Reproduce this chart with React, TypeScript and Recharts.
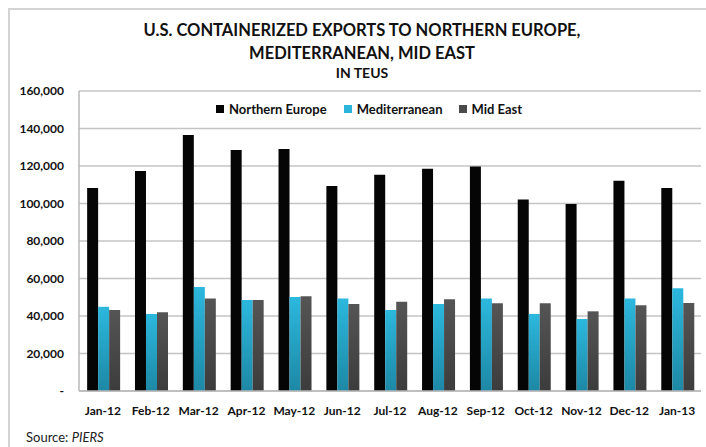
import { BarChart, Bar, XAxis, YAxis, CartesianGrid, Legend } from 'recharts';

const months = ['Jan-12', 'Feb-12', 'Mar-12', 'Apr-12', 'May-12', 'Jun-12', 'Jul-12', 'Aug-12', 'Sep-12', 'Oct-12', 'Nov-12', 'Dec-12', 'Jan-13'];
const northernEurope = [108300, 117300, 136600, 128600, 129100, 109300, 115300, 118600, 119700, 102200, 99800, 112200, 108300];
const mediterranean = [44900, 41100, 55500, 48500, 50100, 49300, 43200, 46400, 49400, 41100, 38400, 49300, 54800];
const midEast = [43200, 42000, 49300, 48500, 50500, 46400, 47600, 48900, 46800, 46800, 42500, 45700, 46900];
const yTicks = [0, 20000, 40000, 60000, 80000, 100000, 120000, 140000, 160000];

const data = months.map((month, i) => ({
  month,
  ne: northernEurope[i],
  med: mediterranean[i],
  me: midEast[i],
}));

const FONT = 'Lato, "Open Sans", sans-serif';

const formatTick = (v: number) => (v === 0 ? '-' : v.toLocaleString('en-US'));

const legendItems = [
  { label: 'Northern Europe', color: '#050505', gap: 0 },
  { label: 'Mediterranean', color: '#2bb5da', gap: 17 },
  { label: 'Mid East', color: '#4a4a4a', gap: 16 },
];

function ChartLegend() {
  return (
    <div style={{ display: 'flex', alignItems: 'center', paddingLeft: 216, fontFamily: FONT, fontWeight: 700, fontSize: 13, color: '#111' }}>
      {legendItems.map((it) => (
        <div key={it.label} style={{ display: 'flex', alignItems: 'center', marginLeft: it.gap }}>
          <span style={{ width: 8, height: 8, background: it.color, display: 'inline-block', marginRight: 5 }} />
          <span>{it.label}</span>
        </div>
      ))}
    </div>
  );
}

export default function App() {
  return (
    <div style={{ position: 'absolute', left: 0, top: 0, width: 706, height: 447, background: '#fff', overflow: 'hidden' }}>
      <div style={{ position: 'absolute', left: 8, top: 8, width: 720, height: 460, borderLeft: '2px solid #d4d4d4', borderTop: '2px solid #d4d4d4' }} />
      <div style={{ position: 'absolute', left: 0, top: 19, width: 724, textAlign: 'center', fontFamily: FONT, fontWeight: 700, color: '#111' }}>
        <div style={{ fontSize: 16.5, lineHeight: '23px' }}>U.S. CONTAINERIZED EXPORTS TO NORTHERN EUROPE,</div>
        <div style={{ fontSize: 16.5, lineHeight: '23px' }}>MEDITERRANEAN, MID EAST</div>
        <div style={{ fontSize: 14, lineHeight: '16px' }}>IN TEUS</div>
      </div>
      <div style={{ position: 'absolute', left: 0, top: 0 }}>
        <BarChart
          width={706}
          height={447}
          data={data}
          margin={{ top: 91, right: 5, left: 9, bottom: 26 }}
          barCategoryGap="17%"
          barGap={0}
        >
          <defs>
            <linearGradient id="medGrad" x1="0" y1="0" x2="0" y2="1">
              <stop offset="0%" stopColor="#2cb8de" />
              <stop offset="100%" stopColor="#1d88a5" />
            </linearGradient>
            <linearGradient id="meGrad" x1="0" y1="0" x2="0" y2="1">
              <stop offset="0%" stopColor="#555555" />
              <stop offset="100%" stopColor="#3c3c3c" />
            </linearGradient>
          </defs>
          <CartesianGrid vertical={false} stroke="#c4c4c4" strokeWidth={1.5} />
          <XAxis
            dataKey="month"
            height={30}
            tickLine={false}
            tickSize={6}
            tickMargin={9}
            axisLine={{ stroke: '#b8b8b8', strokeWidth: 1.5 }}
            tick={{ fontFamily: FONT, fontWeight: 700, fontSize: 12, fill: '#111' }}
            interval={0}
          />
          <YAxis
            width={70}
            domain={[0, 160000]}
            ticks={yTicks}
            tickFormatter={formatTick}
            tickLine={false}
            tickSize={6}
            tickMargin={9}
            axisLine={{ stroke: '#b8b8b8', strokeWidth: 1.5 }}
            tick={{ fontFamily: FONT, fontWeight: 700, fontSize: 12, fill: '#111' }}
          />
          <Legend verticalAlign="middle" align="center" wrapperStyle={{ top: 101, left: 0, width: 706 }} content={() => <ChartLegend />} />
          <Bar dataKey="ne" name="Northern Europe" fill="#050505" isAnimationActive={false} />
          <Bar dataKey="med" name="Mediterranean" fill="url(#medGrad)" isAnimationActive={false} />
          <Bar dataKey="me" name="Mid East" fill="url(#meGrad)" isAnimationActive={false} />
        </BarChart>
      </div>
      <div style={{ position: 'absolute', left: 26, top: 429, fontFamily: FONT, fontSize: 13, color: '#222' }}>
        Source: <i>PIERS</i>
      </div>
    </div>
  );
}
